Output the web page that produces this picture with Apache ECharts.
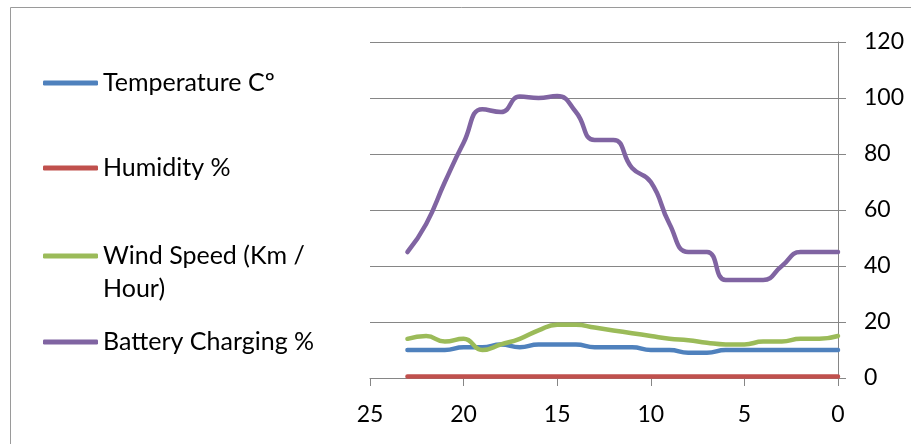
<!DOCTYPE html>
<html><head><meta charset="utf-8">
<script src="https://cdn.jsdelivr.net/npm/echarts@6/dist/echarts.min.js"></script>
<style>html,body{margin:0;padding:0;background:#fff}#c{width:911px;height:444px}</style>
</head><body><div id="c"></div>
<script>
const hours = [23,22,21,20,19,18,17,16,15,14,13,12,11,10,9,8,7,6,5,4,3,2,1,0];
const temperature = [10,10,10,11,11,12,11,12,12,12,11,11,11,10,10,9,9,10,10,10,10,10,10,10];
const humidity = [0.5,0.5,0.5,0.5,0.5,0.5,0.5,0.5,0.5,0.5,0.5,0.5,0.5,0.5,0.5,0.5,0.5,0.5,0.5,0.5,0.5,0.5,0.5,0.5];
const windSpeed = [14,15,13,14,10,12,14,17,19,19,18,17,16,15,14,13.5,12.6,12,12,13,13,14,14,15];
const battery = [45,55,70,84,96,95,100.5,100,100.7,95,85,85,75,70,55,45,45,35,35,35,40,45,45,45];
const seriesNames = ['Temperature Cº','Humidity %','Wind Speed (Km / Hour)','Battery Charging %'];
const colors = ['#4F81BD','#C0504D','#9BBB59','#8064A2'];
const xTicks = {min:0, max:25, interval:5};
const yTicks = {min:0, max:120, interval:20};

const FONT = 'Lato';
const FS = 25;
const TFS = 23;
const allData = [temperature, humidity, windSpeed, battery];
const legendCenters = [83, 168, 256, 342];

const chart = echarts.init(document.getElementById('c'), null, {renderer:'canvas'});
const legends = seriesNames.map((n, i) => {
  const two = i === 2;
  const lh = two ? 33 : 30;
  return {
    data: [n],
    orient: 'vertical',
    left: 43,
    top: two ? legendCenters[i] - 1.5 * lh : legendCenters[i] - lh / 2,
    padding: 0,
    itemWidth: 55,
    itemHeight: 5,
    itemGap: 0,
    icon: 'roundRect',
    selectedMode: false,
    formatter: two ? () => '\nWind Speed (Km /\nHour)' : undefined,
    textStyle: {fontFamily: FONT, fontSize: FS, color:'#000', lineHeight: lh}
  };
});

chart.setOption({
  animation: false,
  color: colors,
  textStyle: {fontFamily: FONT},
  graphic: [{type:'rect', shape:{x:10.5, y:7.5, width:1000, height:1000}, style:{fill:'none', stroke:'#9a9a9a', lineWidth:1}, silent:true}],
  legend: legends,
  grid: {left: 370, right: 73, top: 42, bottom: 66, containLabel: false, outerBoundsMode: 'none'},
  xAxis: {
    type: 'value', min: xTicks.min, max: xTicks.max, interval: xTicks.interval, inverse: true,
    axisLine: {show: true, lineStyle: {color: '#868686', width: 1}},
    axisTick: {show: true, length: 8, lineStyle: {color: '#868686'}},
    splitLine: {show: false},
    axisLabel: {fontFamily: FONT, fontSize: TFS, color: '#000', margin: 25, lineHeight: 24}
  },
  yAxis: {
    type: 'value', position: 'right', min: yTicks.min, max: yTicks.max, interval: yTicks.interval,
    axisLine: {show: true, lineStyle: {color: '#868686', width: 1}},
    axisTick: {show: true, length: 8, lineStyle: {color: '#868686'}},
    splitLine: {show: true, lineStyle: {color: '#868686', width: 1}},
    axisLabel: {fontFamily: FONT, fontSize: TFS, color: '#000', margin: 26}
  },
  series: seriesNames.map((n, i) => ({
    name: n, type: 'line', smooth: 0.5, showSymbol: false, symbol: 'none',
    lineStyle: {width: 4.5, color: colors[i], cap: 'round'},
    itemStyle: {color: colors[i]},
    data: hours.map((h, k) => [h, allData[i][k]])
  }))
});
</script></body></html>
